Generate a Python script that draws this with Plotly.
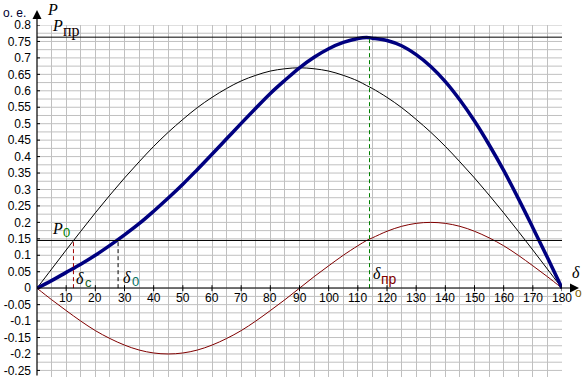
import plotly.graph_objects as go

# ---- data ----
delta = [0, 5, 10, 15, 20, 25, 30, 35, 40, 45, 50, 55, 60, 65, 70, 75, 80, 85, 90,
         95, 100, 105, 110, 113, 115, 120, 125, 130, 135, 140, 145, 150, 155, 160, 165, 170, 175, 180]
p_black = [0, 0.058, 0.116, 0.173, 0.229, 0.283, 0.335, 0.384, 0.431, 0.474, 0.513, 0.549, 0.580,
           0.607, 0.630, 0.647, 0.660, 0.667, 0.670, 0.667, 0.660, 0.647, 0.630, 0.616, 0.607, 0.580,
           0.549, 0.513, 0.474, 0.431, 0.384, 0.335, 0.283, 0.229, 0.173, 0.116, 0.058, 0]
p_red = [0, -0.035, -0.068, -0.100, -0.129, -0.153, -0.173, -0.188, -0.197, -0.200, -0.197, -0.188,
         -0.173, -0.153, -0.129, -0.100, -0.068, -0.035, 0, 0.035, 0.068, 0.100, 0.129, 0.145, 0.153,
         0.173, 0.188, 0.197, 0.200, 0.197, 0.188, 0.173, 0.153, 0.129, 0.100, 0.068, 0.035, 0]
p_blue = [0, 0.023, 0.048, 0.073, 0.100, 0.130, 0.162, 0.196, 0.234, 0.274, 0.316, 0.361, 0.407,
          0.454, 0.501, 0.547, 0.592, 0.632, 0.670, 0.702, 0.728, 0.747, 0.759, 0.762, 0.760, 0.753,
          0.737, 0.710, 0.674, 0.628, 0.572, 0.508, 0.436, 0.358, 0.273, 0.184, 0.093, 0]

P_pr = 0.763
P_0 = 0.145
delta_c = 12.5
delta_0 = 27.8
delta_pr = 114

x_ticks = list(range(10, 181, 10))
x_ticktext = [str(v) for v in x_ticks]
y_ticks = [0.8, 0.75, 0.7, 0.65, 0.6, 0.55, 0.5, 0.45, 0.4, 0.35, 0.3, 0.25, 0.2, 0.15, 0.1, 0.05, 0,
           -0.05, -0.1, -0.15, -0.2, -0.25]
y_ticktext = ["0.8", "0.75", "0.7", "0.65", "0.6", "0.55", "0.5", "0.45", "0.4", "0.35", "0.3", "0.25",
              "0.2", "0.15", "0.1", "0.05", "0", "-0.05", "-0.1", "-0.15", "-0.2", "-0.25"]

# ---- layout geometry ----
W, H = 588, 378
ML, MR, MT, MB = 37, 26, 25, 1
XR = [0, 180]
YR = [-0.27, 0.80]
PW = W - ML - MR
PH = H - MT - MB


def xp(px):
    return (px - ML) / PW


def yp(py):
    return (H - MB - py) / PH


GRID = "#c0c0c0"
SANS = "Liberation Sans, Arial, sans-serif"
SERIF = "Liberation Serif, Times New Roman, serif"

fig = go.Figure()

fig.add_trace(go.Scatter(x=delta, y=p_black, mode="lines", line=dict(color="black", width=1, shape="spline"),
                         hoverinfo="skip", showlegend=False))
fig.add_trace(go.Scatter(x=delta, y=p_red, mode="lines", line=dict(color="#800000", width=1, shape="spline"),
                         hoverinfo="skip", showlegend=False))
fig.add_trace(go.Scatter(x=delta, y=p_blue, mode="lines", line=dict(color="#000080", width=3.5, shape="spline"),
                         hoverinfo="skip", showlegend=False))

# y grid every 0.025
for i in range(43):
    g = round(-0.25 + 0.025 * i, 3)
    fig.add_shape(type="line", x0=0, x1=180, y0=g, y1=g, line=dict(color=GRID, width=1), layer="below")

fig.add_shape(type="line", x0=0, x1=180, y0=P_pr, y1=P_pr, line=dict(color="black", width=1))
fig.add_shape(type="line", x0=0, x1=180, y0=P_0, y1=P_0, line=dict(color="black", width=1))
fig.add_shape(type="line", x0=delta_c, x1=delta_c, y0=0, y1=P_0, line=dict(color="#a00000", width=1, dash="4px,3px"))
fig.add_shape(type="line", x0=delta_0, x1=delta_0, y0=0, y1=P_0, line=dict(color="black", width=1, dash="4px,3px"))
fig.add_shape(type="line", x0=delta_pr, x1=delta_pr, y0=0, y1=P_pr, line=dict(color="#008000", width=1, dash="4px,3px"))

# tick marks crossing the axes
for v in x_ticks:
    fig.add_shape(type="line", xref="x", yref="y", x0=v, x1=v, ysizemode="pixel", yanchor=0, y0=-3, y1=3,
                  line=dict(color="black", width=1))
for v in y_ticks:
    fig.add_shape(type="line", xref="x", yref="y", y0=v, y1=v, xsizemode="pixel", xanchor=0, x0=-3, x1=3,
                  line=dict(color="black", width=1))

ann = []
# axes with arrows
ann.append(dict(x=0, y=yp(10), xref="paper", yref="paper", ax=0, ay=(H - 1) - 10, axref="pixel", ayref="pixel",
                showarrow=True, arrowhead=2, arrowsize=1.5, arrowwidth=1.2, arrowcolor="black", text=""))
ann.append(dict(x=xp(579), y=yp(288), xref="paper", yref="paper", ax=-(579 - ML), ay=0, axref="pixel",
                ayref="pixel", showarrow=True, arrowhead=2, arrowsize=1.5, arrowwidth=1.2, arrowcolor="black",
                text=""))

# x tick labels
for v, t in zip(x_ticks, x_ticktext):
    ann.append(dict(x=v, y=0, xref="x", yref="y", text=t, showarrow=False, yshift=-10,
                    xanchor="center", yanchor="middle", font=dict(family=SANS, size=12, color="black")))


def label(px, py, text, size, color, family):
    ann.append(dict(x=xp(px), y=yp(py), xref="paper", yref="paper", text=text, showarrow=False,
                    xanchor="left", yanchor="middle", borderpad=0, font=dict(family=family, size=size, color=color)))


label(2, 13, "о. е.", 12, "#000030", SANS)
label(46, 9, "<i>P</i>", 16, "black", SERIF)
# P_пр
label(51, 25, "<i>P</i>", 16, "black", SERIF)
label(62, 31, "пр", 16, "#100000", SERIF)
# P_0
label(51, 228, "<i>P</i>", 16, "black", SERIF)
label(62, 233, "0", 13, "#008000", SANS)
# δ_c
label(75, 278, "<i>δ</i>", 16, "black", SERIF)
label(84, 282, "c", 13, "#206020", SANS)
# δ_0
label(122, 277, "<i>δ</i>", 16, "black", SERIF)
label(131, 281, "0", 13, "#007060", SANS)
# δ_пр
label(372, 273, "<i>δ</i>", 16, "black", SERIF)
label(380, 279, "пр", 14, "#800000", SANS)
# axis name δ and degree sign
label(571, 272, "<i>δ</i>", 16, "black", SERIF)
label(574, 293, "o", 12, "#806000", SANS)

fig.update_layout(
    width=W, height=H,
    margin=dict(l=ML, r=MR, t=MT, b=MB, pad=0),
    paper_bgcolor="white", plot_bgcolor="white",
    showlegend=False,
    annotations=ann,
    xaxis=dict(range=XR, showline=False, zeroline=False, showgrid=True, gridcolor=GRID, gridwidth=1,
               tick0=0, dtick=5, showticklabels=False, ticks="", fixedrange=True),
    yaxis=dict(range=YR, showline=False, zeroline=False, showgrid=False,
               tickmode="array", tickvals=y_ticks, ticktext=y_ticktext, ticks="", ticklabelstandoff=5,
               tickfont=dict(family=SANS, size=12, color="black"), fixedrange=True),
)

fig.write_html("out.html", config={"displayModeBar": False},
               post_script="document.body.style.margin='0';")
